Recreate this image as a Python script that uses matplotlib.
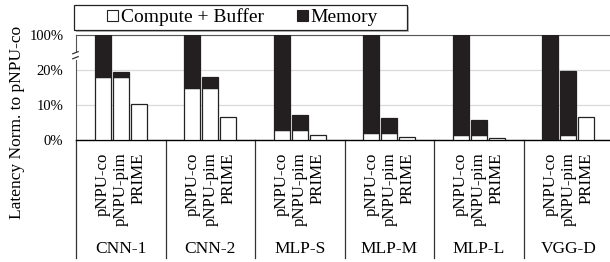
import matplotlib
matplotlib.use("Agg")
import matplotlib.pyplot as plt
from matplotlib.patches import Patch, Rectangle
import numpy as np

plt.rcParams['font.family'] = ['Liberation Serif', 'DejaVu Serif']

workloads = ['CNN-1', 'CNN-2', 'MLP-S', 'MLP-M', 'MLP-L', 'VGG-D']
designs = ['pNPU-co', 'pNPU-pim', 'PRIME']

# latency normalised to pNPU-co, in percent (rows: workloads, cols: designs)
compute = [[17.9, 17.9, 10.3],
           [14.9, 14.9, 6.5],
           [2.9, 2.9, 1.4],
           [1.9, 1.9, 0.8],
           [1.4, 1.4, 0.7],
           [0.2, 1.4, 6.7]]
total = [[100, 19.4, 10.3],
         [100, 17.9, 6.5],
         [100, 7.1, 1.4],
         [100, 6.3, 0.8],
         [100, 5.7, 0.7],
         [100, 19.7, 6.7]]

ytick_vals = [0, 10, 20, 100]
ytick_labels = ['0%', '10%', '20%', '100%']


# broken axis: linear up to 20%, then 20..100% squeezed into one 10% step
def fwd(v):
    v = np.asarray(v, dtype=float)
    return np.where(v <= 20, v, 20 + (v - 20) / 8.0)


def inv(y):
    y = np.asarray(y, dtype=float)
    return np.where(y <= 20, y, 20 + (y - 20) * 8.0)


fig = plt.figure(figsize=(6.1, 2.62), dpi=100)
ax = fig.add_axes([76 / 610, 1 - 140 / 262, (613 - 76) / 610, 105 / 262])
ax.set_yscale('function', functions=(fwd, inv))

compute = np.array(compute)
total = np.array(total)
memory = total - compute

xs, xl = [], []
for g in range(len(workloads)):
    for d in range(len(designs)):
        x = 5 * g + 1.5 + d
        xs.append(x)
        xl.append(designs[d])
        ax.bar(x, compute[g, d], width=0.9, color='white', edgecolor='#222222',
               linewidth=0.9, zorder=3)
        if memory[g, d] > 0.05:
            ax.bar(x, memory[g, d], bottom=compute[g, d], width=0.9,
                   color='#231f20', edgecolor='#231f20', linewidth=0.9, zorder=3)

ax.set_xlim(0, 30)
ax.set_ylim(0, 100)
ax.set_yticks(ytick_vals)
ax.set_yticklabels(ytick_labels, fontsize=10.5)
ax.yaxis.set_minor_locator(matplotlib.ticker.NullLocator())
ax.tick_params(axis='y', length=0, pad=9)
ax.set_xticks(xs)
ax.set_xticklabels(xl, rotation=90, fontsize=12.2, linespacing=1.0)
ax.tick_params(axis='x', length=0, pad=9)
ax.grid(axis='y', color='#d9d9d9', linewidth=0.9, zorder=0)

ax.spines['right'].set_visible(False)
ax.spines['top'].set_color('#555555')
ax.spines['left'].set_color('#555555')
ax.spines['bottom'].set_color('black')
ax.spines['bottom'].set_linewidth(1.0)

# group separators and labels below the axis
for b in range(0, 31, 5):
    ax.plot([b, b], [0, -1.124], transform=ax.get_xaxis_transform(),
            color='#333333', linewidth=0.9, clip_on=False)
for g, name in enumerate(workloads):
    ax.text(5 * g + 2.5, -1.038, name, transform=ax.get_xaxis_transform(),
            ha='center', va='center', fontsize=12.5)

# break marks on the y axis
y1, y2 = (140 - 52.7) / 105, (140 - 57.7) / 105
ax.plot([0, 0], [y2, y1], transform=ax.transAxes, color='white', linewidth=2,
        clip_on=False, zorder=5)
for yy in (y1, y2):
    ax.plot([-0.006, 0.004], [yy - 0.01, yy + 0.01], transform=ax.transAxes,
            color='#333333', linewidth=0.9, clip_on=False, zorder=6)

fig.text(17 / 610, 1 - 122 / 262, 'Latency Norm. to pNPU-co', rotation=90,
         ha='center', va='center', fontsize=12.5)

# legend box with a light shadow
bx0, by0, bw, bh = 74 / 610, 1 - 30 / 262, 333 / 610, 25 / 262
fig.patches.append(Rectangle((bx0 + 2 / 610, by0 - 2 / 262), bw, bh,
                             transform=fig.transFigure, facecolor='#bbbbbb',
                             edgecolor='none', zorder=1))
fig.patches.append(Rectangle((bx0, by0), bw, bh, transform=fig.transFigure,
                             facecolor='white', edgecolor='#222222',
                             linewidth=0.9, zorder=2))
handles = [Patch(facecolor='white', edgecolor='#222222', linewidth=0.8),
           Patch(facecolor='#231f20', edgecolor='#231f20', linewidth=0.8)]
leg = fig.legend(handles, ['Compute + Buffer', 'Memory'], ncol=2,
                 loc='center', bbox_to_anchor=(bx0 + bw / 2 + 2 / 610, by0 + bh / 2),
                 frameon=False, fontsize=14, handlelength=0.55,
                 handleheight=0.55, handletextpad=0.15, columnspacing=1.7,
                 borderpad=0, borderaxespad=0)
leg.set_zorder(3)

fig.savefig('out.png', dpi=100)
